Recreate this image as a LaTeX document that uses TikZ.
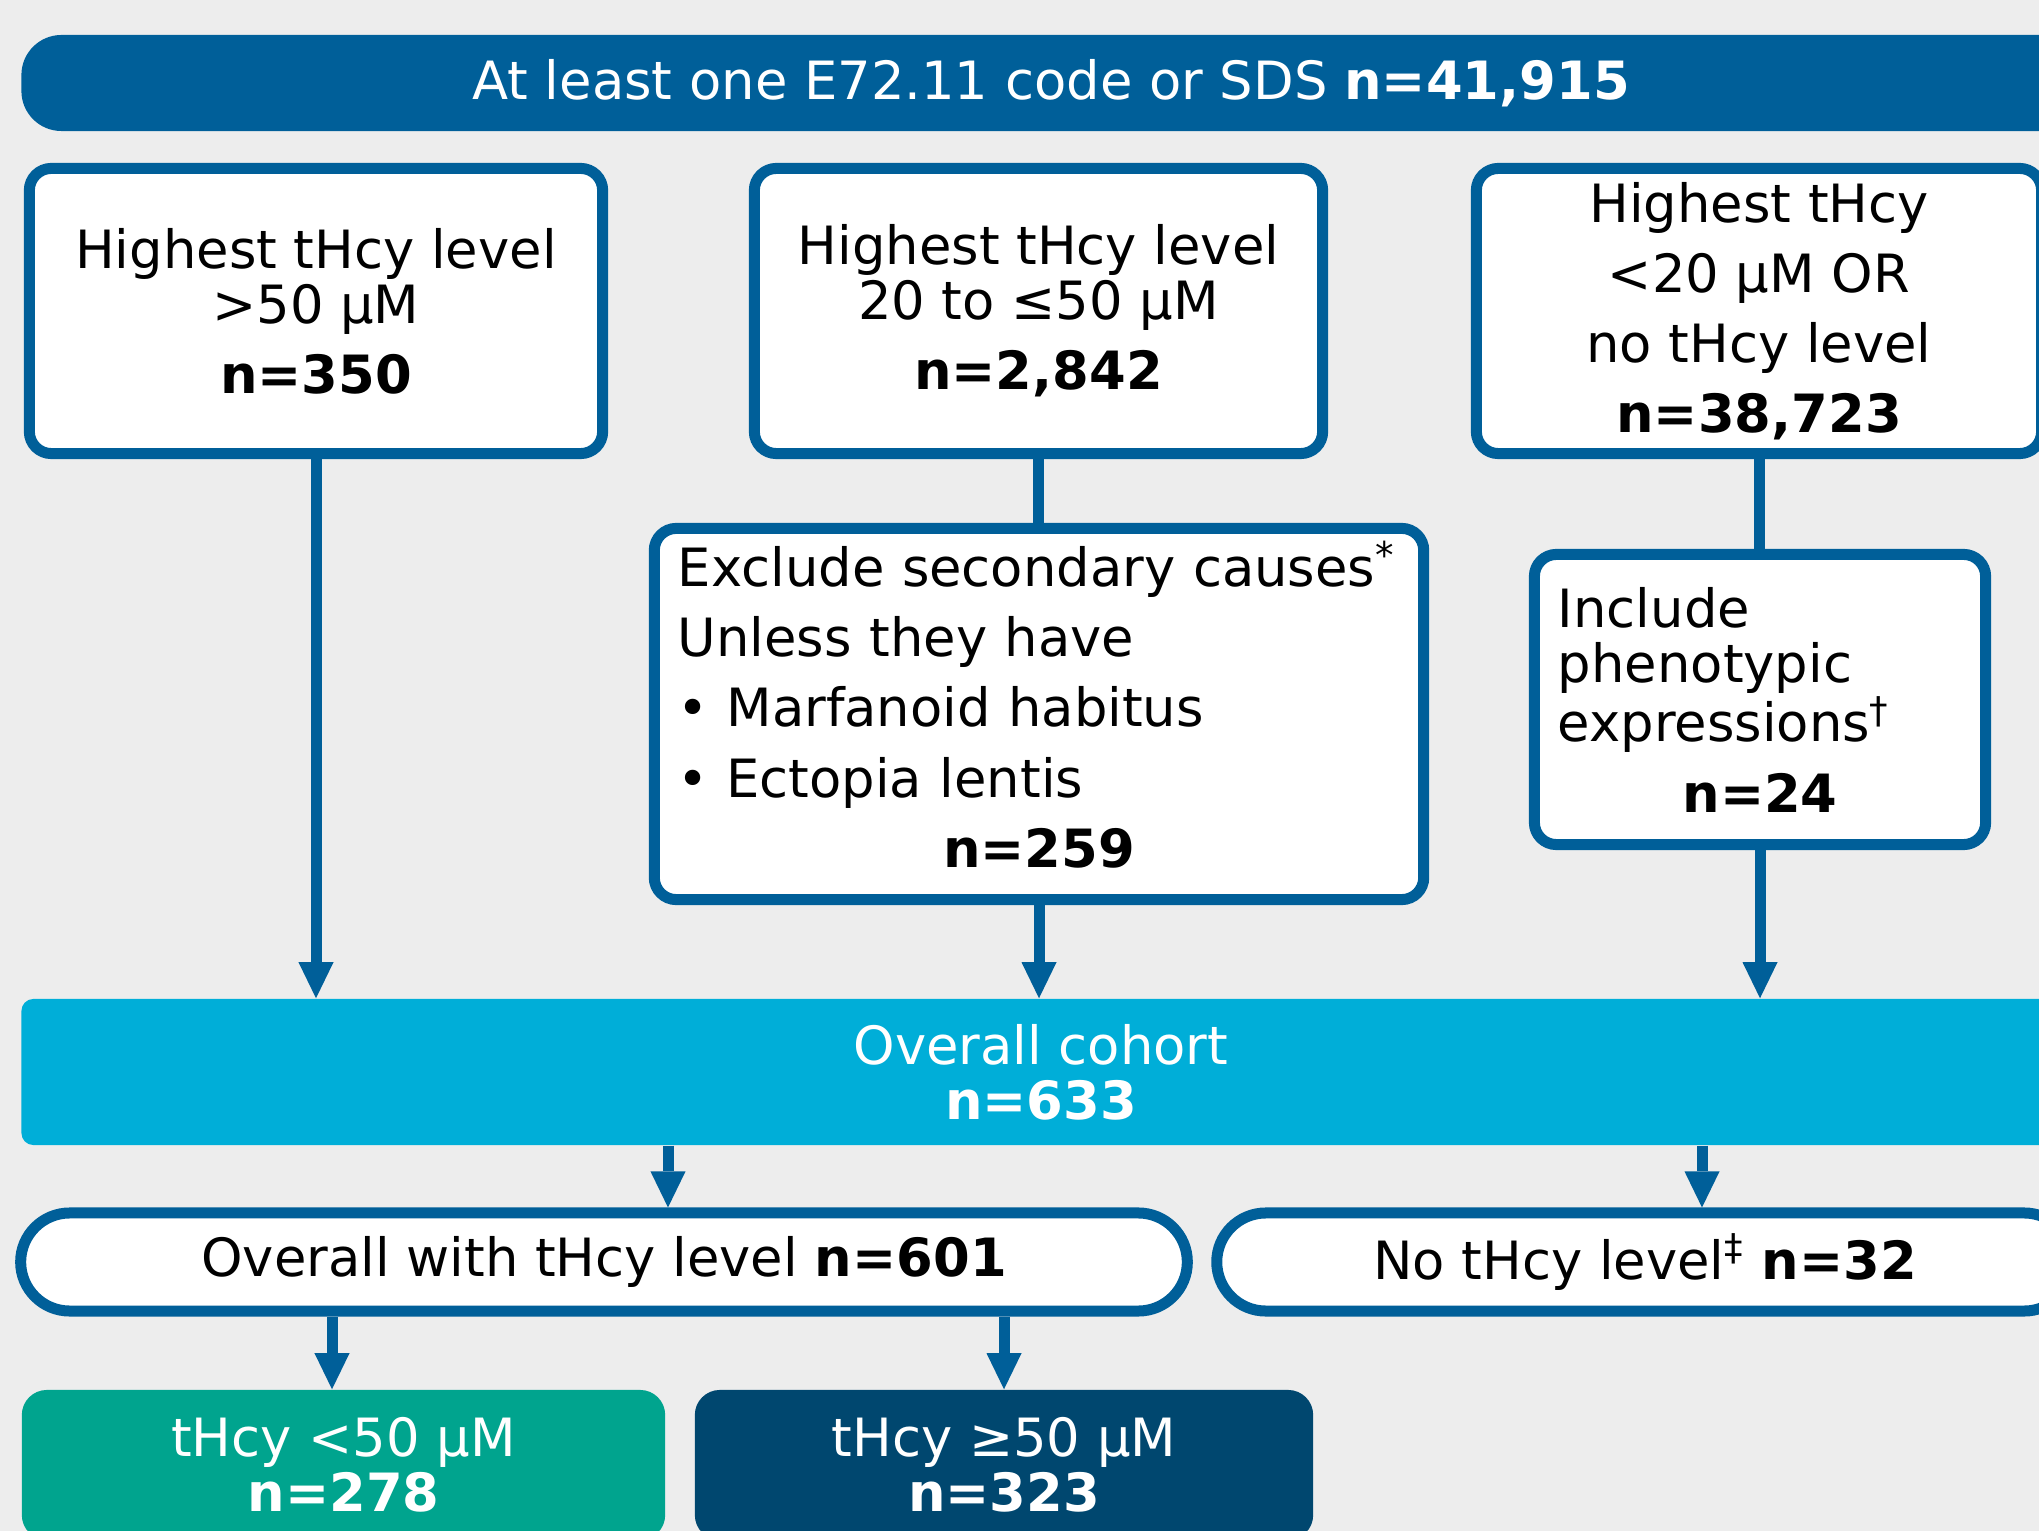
\documentclass[tikz,border=0pt]{standalone}
\usepackage{fontspec}
\setmainfont{DejaVu Sans}
\usetikzlibrary{arrows.meta,positioning,calc}
\definecolor{flowblue}{HTML}{005F99}
\definecolor{cohortcyan}{HTML}{00AED8}
\definecolor{lowteal}{HTML}{00A48E}
\definecolor{highnavy}{HTML}{00476F}
\definecolor{pagegray}{HTML}{EDEDED}
\tikzset{
    flowtext/.style={font=\fontsize{15pt}{15.65pt}\selectfont},
    outlinebox/.style={draw=flowblue, line width=0.11cm, fill=white,
        rounded corners=0.22cm, align=center, flowtext, inner sep=0pt},
    flowline/.style={flowblue, line width=0.11cm},
    flowarrow/.style={flowline, -{Triangle[length=0.36cm, width=0.35cm, line width=0pt]}}
}

\begin{document}
\begin{tikzpicture}[
    x=0.01cm, y=-0.01cm,
    fillbox/.style={fill=#1, text=white, align=center, flowtext, inner sep=0pt},
    pillbox/.style={outlinebox, rounded corners=0.49cm, minimum height=0.98cm}
]
\useasboundingbox (0,0) rectangle (2039,1531);
\clip (0,0) rectangle (2039,1531);
\fill[pagegray] (0,0) rectangle (2039,1531);
\node[fillbox=flowblue, rounded corners=0.4cm, minimum width=20.58cm, minimum height=0.96cm] (all) at (1051,83)
    {At least one E72.11 code or SDS \textbf{n=41,915}};
\node[outlinebox, minimum width=5.73cm, minimum height=2.85cm] (high) at (316,311)
    {Highest tHcy level\\>50 µM\\[4.3pt]\textbf{n=350}};
\node[outlinebox, minimum width=5.68cm, minimum height=2.85cm] (mid) at (1038.5,311)
    {Highest tHcy level\\20 to ≤50 µM\\[4.3pt]\textbf{n=2,842}};
\node[outlinebox, minimum width=5.65cm, minimum height=2.85cm] (low) at (1759,311)
    {Highest tHcy\\[4.3pt]<20 µM OR\\[4.3pt]no tHcy level\\[4.3pt]\textbf{n=38,723}};
\node[outlinebox, align=left, text width=7.22cm, minimum width=7.69cm, minimum height=3.71cm] (exclude) at (1039,714)
    {Exclude secondary causes\textsuperscript{*}\\[4.3pt]Unless they have\\[4.3pt]• Marfanoid habitus\\[4.3pt]• Ectopia lentis\\[4.3pt]\makebox[7.22cm]{\textbf{n=259}\rule[-0.2cm]{0pt}{0pt}}};
\node[outlinebox, align=left, text width=4.04cm, minimum width=4.51cm, minimum height=2.90cm] (include) at (1760,699.5)
    {Include\\phenotypic\\expressions\textsuperscript{†}\\[4.3pt]\makebox[4.04cm]{\textbf{n=24}}};
\node[fillbox=cohortcyan, rounded corners=0.12cm, minimum width=20.38cm, minimum height=1.46cm] (cohort) at (1041,1072)
    {Overall cohort\\\textbf{n=633}};
\node[pillbox, minimum width=11.66cm] (withlevel) at (604,1262) {Overall with tHcy level \textbf{n=601}};
\node[pillbox, minimum width=8.56cm] (nolevel) at (1645,1262) {No tHcy level\textsuperscript{‡} \textbf{n=32}};
\node[fillbox=lowteal, rounded corners=0.25cm, minimum width=6.43cm, minimum height=1.5cm] (lowcount) at (343.5,1465)
    {tHcy <50 µM\\\textbf{n=278}};
\node[fillbox=highnavy, rounded corners=0.25cm, minimum width=6.18cm, minimum height=1.5cm] (highcount) at (1004,1465)
    {tHcy ≥50 µM\\\textbf{n=323}};
\coordinate (forkwith) at (668,0);
\coordinate (forknone) at (1702,0);
\coordinate (forklow) at (332,0);
\coordinate (forkhigh) at (1004,0);
\draw[flowarrow] (high.south) -- (high.south |- cohort.north);
\draw[flowline] (mid.south) -- (mid.south |- exclude.north);
\draw[flowarrow] (exclude.south) -- (exclude.south |- cohort.north);
\draw[flowline] (low.south) -- (low.south |- include.north);
\draw[flowarrow] (include.south) -- (include.south |- cohort.north);
\draw[flowarrow] (cohort.south -| forkwith) -- (withlevel.north -| forkwith);
\draw[flowarrow] (cohort.south -| forknone) -- (nolevel.north -| forknone);
\draw[flowarrow] (withlevel.south -| forklow) -- (lowcount.north -| forklow);
\draw[flowarrow] (withlevel.south -| forkhigh) -- (highcount.north -| forkhigh);
\end{tikzpicture}
\end{document}
